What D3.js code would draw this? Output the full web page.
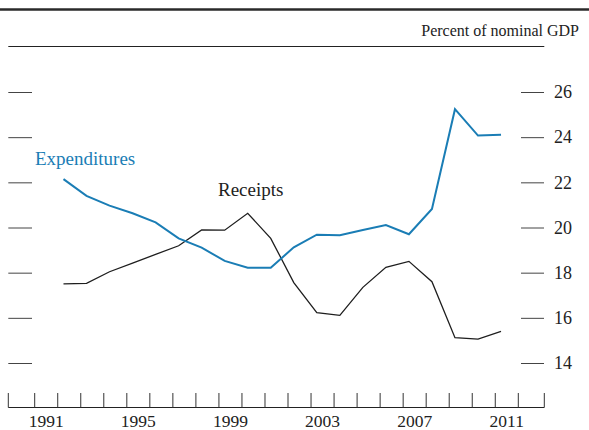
<!DOCTYPE html>
<html><head><meta charset="utf-8">
<script src="https://cdn.jsdelivr.net/npm/d3@7"></script>
<style>body{margin:0;background:#fff}svg{display:block}text{font-family:"Liberation Serif","Times New Roman",serif}</style>
</head><body>
<svg id="c" width="589" height="430"></svg>
<script>
const years = [1992,1993,1994,1995,1996,1997,1998,1999,2000,2001,2002,2003,2004,2005,2006,2007,2008,2009,2010,2011];
const expenditures = [22.14,21.40,20.97,20.63,20.23,19.52,19.11,18.52,18.22,18.22,19.12,19.68,19.66,19.89,20.11,19.70,20.82,25.24,24.07,24.11];
const receipts = [17.50,17.53,18.04,18.42,18.81,19.19,19.89,19.88,20.63,19.52,17.56,16.23,16.11,17.35,18.24,18.50,17.60,15.12,15.06,15.40];
const yTicks = [14,16,18,20,22,24,26];
const xLabels = [1991,1995,1999,2003,2007,2011];
const unitLabel = "Percent of nominal GDP";

const svg = d3.select("#c");
const x = d3.scaleLinear().domain([1991, 2012]).range([34.7, 518.3]);
const y = d3.scaleLinear().domain([14, 26]).range([363, 92]);
const frameL = 8.3, frameR = 544.3, baseY = 407.5;

// top rule
svg.append("line").attr("x1",0).attr("x2",589).attr("y1",9.5).attr("y2",9.5)
  .attr("stroke","#2a2a2a").attr("stroke-width",2.6);
svg.append("text").attr("x",579).attr("y",35.5).attr("text-anchor","end")
  .attr("font-size",16).attr("fill","#222").text(unitLabel);
svg.append("line").attr("x1",frameL).attr("x2",frameR).attr("y1",46.5).attr("y2",46.5)
  .attr("stroke","#222").attr("stroke-width",1);

// y ticks left and right
const yAxisR = d3.axisRight(y).tickValues(yTicks).tickSize(23).tickPadding(10).tickFormat(d3.format("d"));
const gR = svg.append("g").attr("transform",`translate(521,0)`).call(yAxisR);
gR.select(".domain").remove();
gR.selectAll("line").attr("stroke","#444");
gR.selectAll("text").attr("font-size",18).attr("fill","#222").attr("font-family","Liberation Serif");
const yAxisL = d3.axisRight(y).tickValues(yTicks).tickSize(23.7).tickFormat("");
const gL = svg.append("g").attr("transform",`translate(${frameL},0)`).call(yAxisL);
gL.select(".domain").remove();
gL.selectAll("line").attr("stroke","#444");

// x axis
svg.append("line").attr("x1",frameL).attr("x2",frameR).attr("y1",baseY).attr("y2",baseY)
  .attr("stroke","#222").attr("stroke-width",1);
const tickYears = d3.range(1991, 2013);
const gx = svg.append("g");
gx.selectAll("line.t").data(tickYears).join("line").attr("class","t")
  .attr("x1",d=>x(d)).attr("x2",d=>x(d)).attr("y1",393).attr("y2",baseY)
  .attr("stroke","#333");
gx.selectAll("line.e").data([frameL,frameR]).join("line").attr("class","e")
  .attr("x1",d=>d).attr("x2",d=>d).attr("y1",393).attr("y2",baseY).attr("stroke","#333");
gx.selectAll("text").data(xLabels).join("text")
  .attr("x",d=>x(d+0.5)).attr("y",426.5).attr("text-anchor","middle")
  .attr("font-size",17.5).attr("fill","#222").text(d=>d);

// lines
const line = d3.line().x((d,i)=>x(years[i]+0.25)).y(d=>y(d));
svg.append("path").datum(receipts).attr("d",line).attr("fill","none")
  .attr("stroke","#1e1e1e").attr("stroke-width",1.3).attr("stroke-linejoin","miter");
svg.append("path").datum(expenditures).attr("d",line).attr("fill","none")
  .attr("stroke","#1a7db5").attr("stroke-width",2).attr("stroke-linejoin","miter");

svg.append("text").attr("x",35).attr("y",165).attr("font-size",19).attr("fill","#1a7db5").text("Expenditures");
svg.append("text").attr("x",218).attr("y",196).attr("font-size",19).attr("fill","#222").text("Receipts");
</script>
</body></html>
